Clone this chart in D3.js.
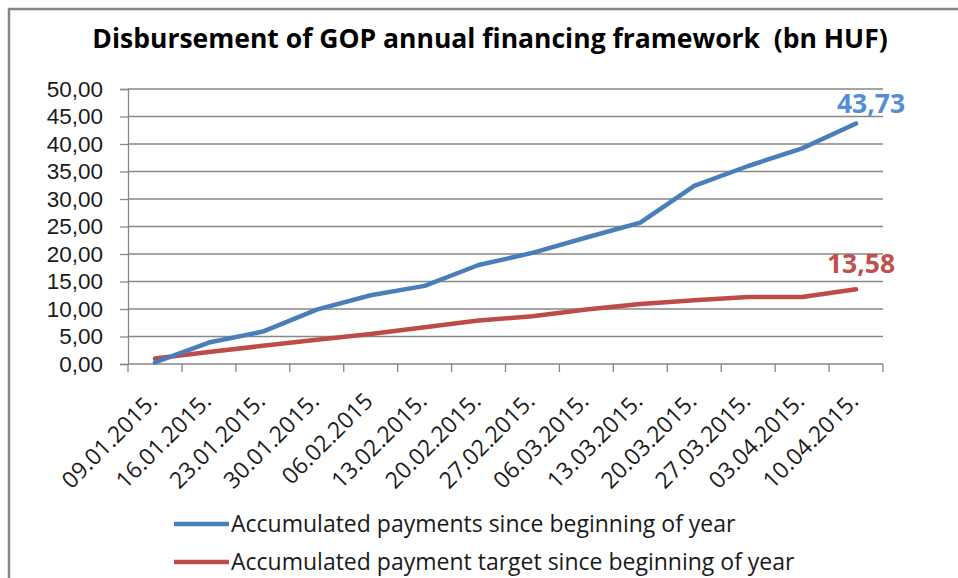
<!doctype html>
<html lang="en">
<head>
<meta charset="utf-8">
<title>Disbursement of GOP annual financing framework</title>
<style>
  body { margin: 0; background: #fff; }
  svg { display: block; font-family: "Open Sans", sans-serif; }
  .grid line { stroke: #878787; stroke-width: 1.3; }
  .axis path, .axis line { stroke: #878787; stroke-width: 1.3; }
  .axis text { fill: #1a1a1a; }
</style>
</head>
<body>
<svg></svg>
<script src="https://d3js.org/d3.v7.min.js"></script>
<script>
// data
let dates = ["09.01.2015.", "16.01.2015.", "23.01.2015.", "30.01.2015.", "06.02.2015",
             "13.02.2015.", "20.02.2015.", "27.02.2015.", "06.03.2015.", "13.03.2015.",
             "20.03.2015.", "27.03.2015.", "03.04.2015.", "10.04.2015."];
let payments = [0.3, 3.9, 5.9, 9.9, 12.5, 14.2, 18.0, 20.2, 23.0, 25.7, 32.4, 36.0, 39.2, 43.73];
let target = [1.0, 2.2, 3.3, 4.4, 5.45, 6.7, 7.9, 8.7, 9.9, 10.9, 11.6, 12.2, 12.2, 13.58];
let yTicks = [0, 5, 10, 15, 20, 25, 30, 35, 40, 45, 50];

let series = [
  { name: "Accumulated payments since beginning of year", values: payments, color: "#4A7EBB", labelColor: "#558ED5" },
  { name: "Accumulated payment target since beginning of year", values: target, color: "#BE4B48", labelColor: "#C0504D" }
];

let width = 958,
    height = 578;

let svg = d3.select("svg")
    .attr("width", width)
    .attr("height", height);

// chart border (only top and left edges are visible)
svg.append("path")
    .attr("d", "M9,578 L9,9 L958,9")
    .attr("fill", "none")
    .attr("stroke", "#878787")
    .attr("stroke-width", 2.5);

let plot = { left: 128, right: 883, top: 89, bottom: 364 };

let x = d3.scaleBand()
    .domain(dates)
    .range([plot.left, plot.right]);

let y = d3.scaleLinear()
    .domain([0, 50])
    .range([plot.bottom, plot.top]);

let fmt = v => d3.format(".2f")(v).replace(".", ",");

// title
svg.append("text")
    .attr("x", 490)
    .attr("y", 48)
    .attr("text-anchor", "middle")
    .style("white-space", "pre")
    .style("font-size", "26.5px")
    .style("font-weight", "bold")
    .style("fill", "#000")
    .text("Disbursement of GOP annual financing framework  (bn HUF)");

// gridlines
svg.append("g")
    .attr("class", "grid")
    .selectAll("line")
    .data(yTicks.slice(1))
    .enter()
    .append("line")
    .attr("x1", plot.left)
    .attr("x2", plot.right)
    .attr("y1", d => y(d))
    .attr("y2", d => y(d));

// y axis
let yAxis = svg.append("g")
    .attr("class", "axis")
    .attr("transform", "translate(" + plot.left + ",0)")
    .call(d3.axisLeft(y).tickValues(yTicks).tickFormat(fmt).tickSize(8).tickPadding(17));
yAxis.selectAll("text").style("font-size", "22.5px");

// x axis: ticks on category boundaries
let xAxis = svg.append("g")
    .attr("class", "axis")
    .attr("transform", "translate(0," + plot.bottom + ")");
xAxis.append("line")
    .attr("x1", plot.left)
    .attr("x2", plot.right);
xAxis.selectAll("line.tick")
    .data(d3.range(dates.length + 1))
    .enter()
    .append("line")
    .attr("class", "tick")
    .attr("x1", i => plot.left + i * x.step())
    .attr("x2", i => plot.left + i * x.step())
    .attr("y1", 0)
    .attr("y2", 8);
xAxis.selectAll("text")
    .data(dates)
    .enter()
    .append("text")
    .attr("text-anchor", "end")
    .attr("transform", d => "translate(" + (x(d) + x.bandwidth() / 2 - 2) + ",33) rotate(-45)")
    .attr("dy", "0.35em")
    .style("font-size", "23px")
    .text(d => d);

// lines
let line = d3.line()
    .x((d, i) => x(dates[i]) + x.bandwidth() / 2)
    .y(d => y(d));

svg.append("g")
    .selectAll("path")
    .data(series.slice().reverse())
    .enter()
    .append("path")
    .attr("fill", "none")
    .attr("stroke", d => d.color)
    .attr("stroke-width", 4.5)
    .attr("stroke-linejoin", "round")
    .attr("stroke-linecap", "round")
    .attr("d", d => line(d.values));

// label on the last point
let last = dates.length - 1;
svg.append("g")
    .selectAll("text")
    .data(series)
    .enter()
    .append("text")
    .attr("x", (d, i) => x(dates[last]) + x.bandwidth() / 2 + (i === 0 ? 15 : 5))
    .attr("y", (d, i) => y(d.values[last]) - (i === 0 ? 10 : 16))
    .attr("text-anchor", "middle")
    .style("font-size", "26.5px")
    .style("font-weight", "bold")
    .style("fill", d => d.labelColor)
    .text(d => fmt(d.values[last]));

// legend
let legend = svg.append("g")
    .selectAll("g")
    .data(series)
    .enter()
    .append("g")
    .attr("transform", (d, i) => "translate(174," + (524 + i * 38) + ")");
legend.append("line")
    .attr("x1", 0)
    .attr("x2", 55)
    .attr("stroke", d => d.color)
    .attr("stroke-width", 4.5);
legend.append("text")
    .attr("x", 57)
    .attr("dy", "0.35em")
    .style("font-size", "23px")
    .style("fill", "#1a1a1a")
    .text(d => d.name);
</script>
</body>
</html>
